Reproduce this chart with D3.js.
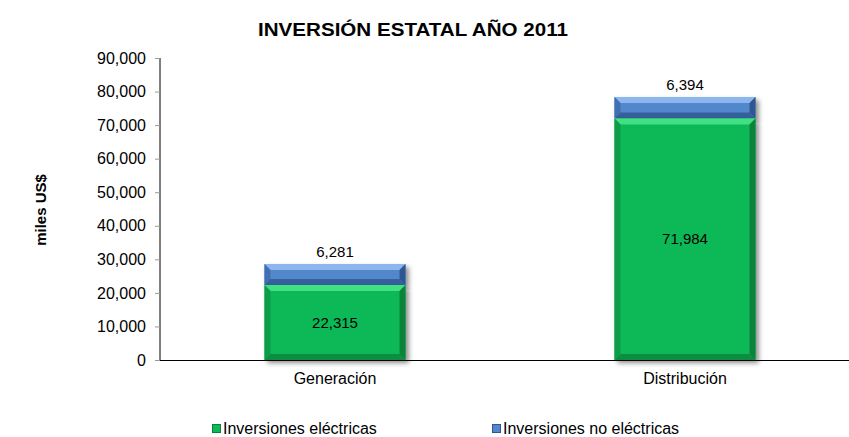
<!DOCTYPE html>
<html lang="es">
<head>
<meta charset="utf-8">
<title>Inversión estatal año 2011</title>
<script src="https://d3js.org/d3.v7.min.js"></script>
<style>
  body { margin: 0; background: #fff; }
  text { font-family: "Liberation Sans", Arial, sans-serif; }
</style>
</head>
<body>
<script>
// data
var categories = ["Generación", "Distribución"];
var seriesNames = ["Inversiones eléctricas", "Inversiones no eléctricas"];
var electricas = [22315, 71984];
var noElectricas = [6281, 6394];
var yTicks = [0, 10000, 20000, 30000, 40000, 50000, 60000, 70000, 80000, 90000];

var w = 849, h = 437;
var plotLeft = 160, plotRight = 860, plotTop = 58, plotBottom = 360;

var svg = d3.select("body").append("svg")
  .attr("width", w).attr("height", h);

var x = d3.scaleBand().domain(categories).range([plotLeft, plotRight]).paddingInner(0.597).paddingOuter(0.2985);
var y = d3.scaleLinear().domain([0, 90000]).range([plotBottom, plotTop]);
var fmt = d3.format(",");

var colors = [
  { base: "#10b957", light: "#3fe083", dark: "#07823a", side: "#0a9c48" },
  { base: "#5287cc", light: "#8db6ee", dark: "#2d5790", side: "#4170b2" }
];

// shadow filter
var defs = svg.append("defs");
var f = defs.append("filter").attr("id", "sh").attr("x", "-20%").attr("y", "-20%").attr("width", "140%").attr("height", "140%");
f.append("feGaussianBlur").attr("in", "SourceAlpha").attr("stdDeviation", 2.5);
f.append("feOffset").attr("dx", 3).attr("dy", 3).attr("result", "b");
f.append("feComponentTransfer").append("feFuncA").attr("type", "linear").attr("slope", 0.45);
var fm = f.append("feMerge");
fm.append("feMergeNode");
fm.append("feMergeNode").attr("in", "SourceGraphic");

// title
svg.append("text").attr("x", 413).attr("y", 36).attr("text-anchor", "middle")
  .attr("textLength", 310).attr("lengthAdjust", "spacingAndGlyphs")
  .style("font-size", "18px").style("font-weight", "bold").text("INVERSIÓN ESTATAL AÑO 2011");

// y axis label
svg.append("text").attr("transform", "translate(46,210) rotate(-90)").attr("text-anchor", "middle")
  .style("font-size", "15px").style("font-weight", "bold").text("miles US$");

// y axis
var yAxis = d3.axisLeft(y).tickValues(yTicks).tickFormat(fmt).tickSize(5).tickPadding(9);
var gy = svg.append("g").attr("transform", "translate(" + plotLeft + ",0)").call(yAxis);
gy.select(".domain").attr("stroke", "#000").attr("d", "M0," + plotTop + "V" + plotBottom);
gy.selectAll(".tick line").attr("stroke", "#999");
gy.selectAll(".tick text").style("font-size", "16px").attr("fill", "#000");

// bars
function bevelBar(g, x0, y0, bw, bh, c) {
  var b = Math.min(6, bh / 3);
  var gg = g.append("g").attr("filter", "url(#sh)");
  gg.append("rect").attr("x", x0).attr("y", y0).attr("width", bw).attr("height", bh).attr("fill", c.base);
  var x1 = x0 + bw, y1 = y0 + bh;
  gg.append("polygon").attr("fill", c.light)
    .attr("points", [[x0, y0], [x1, y0], [x1 - b, y0 + b], [x0 + b, y0 + b]].join(" "));
  gg.append("polygon").attr("fill", c.side)
    .attr("points", [[x0, y0], [x0 + b, y0 + b], [x0 + b, y1 - b], [x0, y1]].join(" "));
  gg.append("polygon").attr("fill", c.dark)
    .attr("points", [[x1, y0], [x1, y1], [x1 - b, y1 - b], [x1 - b, y0 + b]].join(" "));
  gg.append("polygon").attr("fill", c.dark).attr("opacity", 0.8)
    .attr("points", [[x0, y1], [x0 + b, y1 - b], [x1 - b, y1 - b], [x1, y1]].join(" "));
}

var gb = svg.append("g");
categories.forEach(function(cat, i) {
  var bx = x(cat), bw = x.bandwidth();
  var e = electricas[i], n = noElectricas[i];
  bevelBar(gb, bx, y(e + n), bw, y(e) - y(e + n), colors[1]);
  bevelBar(gb, bx, y(e), bw, y(0) - y(e), colors[0]);
  svg.append("text").attr("x", bx + bw / 2).attr("y", (y(e) + y(0)) / 2 + 5)
    .attr("text-anchor", "middle").style("font-size", "15px").text(fmt(e));
  svg.append("text").attr("x", bx + bw / 2).attr("y", y(e + n) - 7)
    .attr("text-anchor", "middle").style("font-size", "15px").text(fmt(n));
});

// x axis
var xAxis = d3.axisBottom(x).tickSize(0).tickPadding(13);
var gx = svg.append("g").attr("transform", "translate(0," + plotBottom + ")").call(xAxis);
gx.select(".domain").attr("stroke", "#000").attr("d", "M" + plotLeft + ",0.5H" + w);
gx.selectAll(".tick text").style("font-size", "16px").attr("fill", "#000");

// legend
var legX = [212, 492];
seriesNames.forEach(function(s, i) {
  var lg = svg.append("g").attr("transform", "translate(" + legX[i] + ",424)");
  lg.append("rect").attr("x", 0.5).attr("y", 0.5).attr("width", 8).attr("height", 8).attr("fill", colors[i].base)
    .attr("stroke", colors[i].dark).attr("stroke-width", 1);
  lg.append("text").attr("x", 11).attr("y", 9.5).style("font-size", "16px").text(s);
});
</script>
</body>
</html>
